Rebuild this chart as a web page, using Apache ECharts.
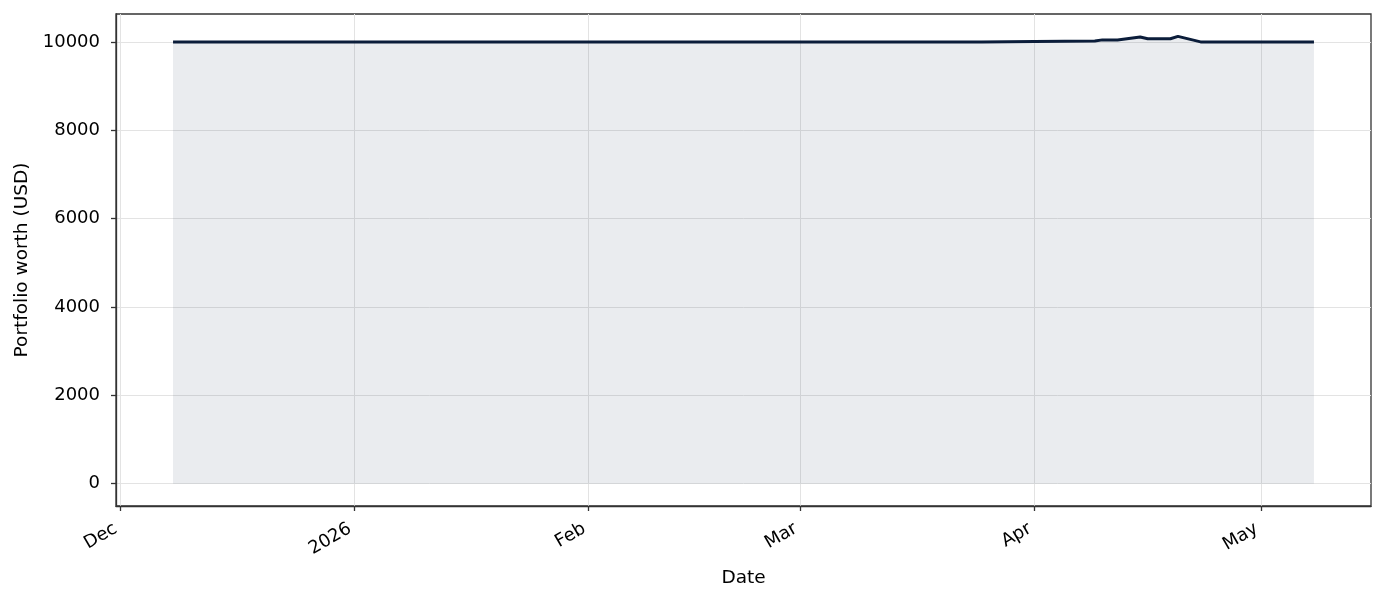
<!DOCTYPE html>
<html>
<head>
<meta charset="utf-8">
<script src="https://cdn.jsdelivr.net/npm/echarts@6/dist/echarts.min.js"></script>
<style>
  html, body { margin: 0; padding: 0; background: #fff; }
  #chart { width: 1385px; height: 602px; }
</style>
</head>
<body>
<div id="chart"></div>
<script>
'use strict';

// portfolio history
var dates = [
    '2025-12-08', '2026-03-25', '2026-04-01', '2026-04-09', '2026-04-10',
    '2026-04-12', '2026-04-15', '2026-04-16', '2026-04-19', '2026-04-20',
    '2026-04-23', '2026-05-08'
];
var worth = [
    10000, 10000, 10010, 10020, 10045,
    10045, 10110, 10070, 10070, 10125,
    10000, 10000
];
var yTicks = [0, 2000, 4000, 6000, 8000, 10000];
var xTickDates = ['2025-12-01', '2026-01-01', '2026-02-01', '2026-03-01', '2026-04-01', '2026-05-01'];
var xTickLabels = ['Dec', '2026', 'Feb', 'Mar', 'Apr', 'May'];

var font = 'DejaVu Sans';
var axisColor = '#333333';
var gridColor = '#e3e3e3';

// dates as plain day-precision timestamps (UTC so there is no DST drift)
function toTime(s) {
    var p = s.split('-');
    return Date.UTC(+p[0], +p[1] - 1, +p[2]);
}

var xTicks = xTickDates.map(toTime);

var chart = echarts.init(document.getElementById('chart'));

var seriesData = dates.map(function(d, i) {
    return [toTime(d), worth[i]];
});

var option = {
    animation: false,
    backgroundColor: '#ffffff',
    grid: {
        left: 116,
        right: 14,
        top: 14,
        bottom: 96,
        show: true,
        borderColor: axisColor,
        borderWidth: 1.3,
        containLabel: false
    },
    xAxis: {
        type: 'value',
        min: Date.UTC(2025, 10, 30, 10, 48),
        max: Date.UTC(2026, 4, 15, 13, 12),
        scale: true,
        name: 'Date',
        nameLocation: 'middle',
        nameGap: 63,
        nameTextStyle: { fontFamily: font, fontSize: 18.5, color: '#000' },
        axisLine: { show: true, onZero: false, lineStyle: { color: axisColor, width: 1.3 } },
        axisTick: { show: true, length: 5, customValues: xTicks, lineStyle: { color: axisColor, width: 1.3 } },
        axisLabel: {
            rotate: 30,
            fontFamily: font,
            fontSize: 18,
            color: '#000',
            margin: 19,
            padding: [0, 5, 0, 0],
            hideOverlap: false,
            customValues: xTicks,
            formatter: function(val) {
                var i = xTicks.indexOf(+val);
                return i >= 0 ? xTickLabels[i] : '';
            }
        },
        splitLine: { show: true, lineStyle: { color: gridColor, width: 1 } }
    },
    yAxis: {
        type: 'value',
        min: -506,
        max: 10631,
        name: 'Portfolio worth (USD)',
        nameLocation: 'middle',
        nameGap: 83,
        nameTextStyle: { fontFamily: font, fontSize: 18.5, color: '#000' },
        axisLine: { show: true, onZero: false, lineStyle: { color: axisColor, width: 1.3 } },
        axisTick: { show: true, length: 5, customValues: yTicks, lineStyle: { color: axisColor, width: 1.3 } },
        axisLabel: {
            fontFamily: font,
            fontSize: 18,
            color: '#000',
            margin: 16,
            customValues: yTicks,
            formatter: function(val) {
                return String(val);
            }
        },
        splitLine: { show: true, lineStyle: { color: gridColor, width: 1 } }
    },
    series: [{
        type: 'line',
        data: seriesData,
        showSymbol: false,
        symbol: 'none',
        lineStyle: { color: '#0b1d3a', width: 3 },
        areaStyle: { color: 'rgba(15, 30, 70, 0.125)', origin: 0 },
        z: 3
    }]
};

chart.setOption(option);
</script>
</body>
</html>
